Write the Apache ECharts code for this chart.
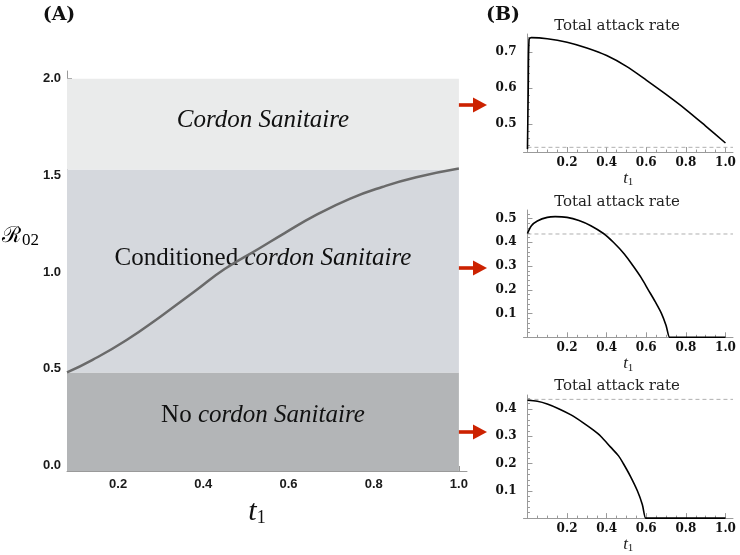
<!DOCTYPE html>
<html><head><meta charset="utf-8">
<script src="https://cdn.jsdelivr.net/npm/echarts@6/dist/echarts.min.js"></script>
<style>html,body{margin:0;padding:0;background:#fff}#c{width:740px;height:555px}</style>
</head><body><div id="c"></div>
<script>
// ---------- data ----------
const mainT1  = [0.08, 0.14, 0.22, 0.30, 0.38, 0.45, 0.53, 0.59, 0.665, 0.745, 0.82, 0.90, 1.00];
const mainR02 = [0.48, 0.545, 0.648, 0.77, 0.90, 1.015, 1.12, 1.20, 1.295, 1.38, 1.44, 1.49, 1.535];
const bandTop = [0.48, 1.53, 2.0];             // upper edge of each region
const bandNames = ['No cordon Sanitaire', 'Conditioned cordon Sanitaire', 'Cordon Sanitaire'];
const mainXTicks = [0.2, 0.4, 0.6, 0.8, 1.0];
const mainYTicks = [0.0, 0.5, 1.0, 1.5, 2.0];

const p1T = [0, 0.004, 0.008, 0.02, 0.1, 0.2, 0.3, 0.4, 0.5, 0.6, 0.7, 0.8, 0.9, 1.0];
const p1V = [0.43, 0.60, 0.735, 0.74, 0.737, 0.727, 0.711, 0.69, 0.66, 0.622, 0.582, 0.54, 0.494, 0.447];
const p2T = [0, 0.02, 0.05, 0.1, 0.14, 0.2, 0.26, 0.32, 0.384, 0.434, 0.49, 0.534, 0.575, 0.61, 0.645, 0.677, 0.70, 0.718, 0.725, 0.8, 0.9, 1.0];
const p2V = [0.437, 0.47, 0.49, 0.505, 0.508, 0.505, 0.492, 0.47, 0.437, 0.40, 0.35, 0.30, 0.25, 0.20, 0.15, 0.10, 0.05, 0.0, 0.0, 0.0, 0.0, 0.0];
const p3T = [0, 0.05, 0.1, 0.16, 0.22, 0.28, 0.33, 0.37, 0.42, 0.46, 0.484, 0.52, 0.555, 0.58, 0.597, 0.604, 0.7, 0.8, 0.9, 1.0];
const p3V = [0.432, 0.428, 0.418, 0.40, 0.378, 0.35, 0.324, 0.30, 0.26, 0.228, 0.20, 0.153, 0.10, 0.05, 0.0, 0.0, 0.0, 0.0, 0.0, 0.0];
const baseline = 0.435;
const panelXTicks = [0.2, 0.4, 0.6, 0.8, 1.0];
const p1YTicks = [0.5, 0.6, 0.7];
const p2YTicks = [0.1, 0.2, 0.3, 0.4, 0.5];
const p3YTicks = [0.1, 0.2, 0.3, 0.4];

// ---------- helpers ----------
const zip = (a, b) => a.map((v, i) => [v, b[i]]);
function steps(min, max, step) { const out = []; for (let k = Math.ceil(min / step - 1e-9); k * step <= max + 1e-9; k++) out.push(+(k * step).toFixed(4)); return out; }

const mainRange = { xMin: 0.08, xMax: 1.019, yMin: -0.03, yMax: 2.04 };
const pX = { min: -0.02, max: 1.038 };
const pY = [{ min: 0.422, max: 0.75 }, { min: 0, max: 0.536 }, { min: 0, max: 0.451 }];

const grids = [
  { left: 67, top: 71, width: 400, height: 400 },
  { left: 523.5, top: 34, width: 209.5, height: 118 },
  { left: 523.5, top: 210, width: 209.5, height: 127.3 },
  { left: 523.5, top: 395, width: 209.5, height: 126.3 }
];

const mainLbl = { fontFamily: 'Liberation Sans', fontWeight: 'bold', fontSize: 13, color: '#1a1a1a' };
const panLbl = { fontFamily: 'DejaVu Serif', fontWeight: 'bold', fontSize: 12, color: '#111' };

function axis(kind, g, min, max, ticks, minor, lbl, margin, extra) {
  const a = {
    type: 'value', gridIndex: g, min: min, max: max,
    position: kind === 'x' ? 'bottom' : 'left',
    axisLine: { show: !minor, onZero: kind === 'y' && g > 0, lineStyle: { color: '#9a9a9a', width: 1 } },
    axisTick: { show: true, inside: true, length: minor ? 2.5 : 5, customValues: ticks, lineStyle: { color: '#9a9a9a', width: 1 } },
    axisLabel: Object.assign({ show: !minor, customValues: ticks, margin: margin, formatter: v => v.toFixed(1) }, lbl),
    splitLine: { show: false }
  };
  return Object.assign(a, extra || {});
}

const xAxes = [], yAxes = [];
// main
xAxes.push(axis('x', 0, mainRange.xMin, mainRange.xMax, mainXTicks, false, mainLbl, 7, {
  name: '{i|t}{s|1}', nameLocation: 'middle', nameGap: 26,
  nameTextStyle: { padding: [0, 20, 0, 0], rich: { i: { fontFamily: 'Liberation Serif', fontStyle: 'italic', fontSize: 30, color: '#111' }, s: { fontFamily: 'Liberation Serif', fontSize: 18, color: '#111', verticalAlign: 'bottom', padding: [12, 0, 0, 0] } } }
}));
xAxes.push(axis('x', 0, mainRange.xMin, mainRange.xMax, steps(0.1, 1.0, 0.05).filter(v => !mainXTicks.some(t => Math.abs(t - v) < 1e-6)), true));
yAxes.push(axis('y', 0, mainRange.yMin, mainRange.yMax, mainYTicks, false, mainLbl, 6));
yAxes.push(axis('y', 0, mainRange.yMin, mainRange.yMax, steps(0, 2.0, 0.1).filter(v => !mainYTicks.some(t => Math.abs(t - v) < 1e-6)), true));
// panels
const pYT = [p1YTicks, p2YTicks, p3YTicks];
for (let i = 0; i < 3; i++) {
  const g = i + 1;
  xAxes.push(axis('x', g, pX.min, pX.max, panelXTicks, false, panLbl, 5, {
    name: '{i|t}{s|1}', nameLocation: 'middle', nameGap: 16,
    nameTextStyle: { rich: { i: { fontFamily: 'Liberation Serif', fontStyle: 'italic', fontSize: 17, color: '#222' }, s: { fontFamily: 'Liberation Serif', fontSize: 11, color: '#222', padding: [8, 0, 0, 0] } } }
  }));
  xAxes.push(axis('x', g, pX.min, pX.max, steps(0.05, 1.0, 0.05).filter(v => !panelXTicks.some(t => Math.abs(t - v) < 1e-6)), true));
  yAxes.push(axis('y', g, pY[i].min, pY[i].max, pYT[i], false, panLbl, 7));
  yAxes.push(axis('y', g, pY[i].min, pY[i].max, steps(pY[i].min, pY[i].max, 0.02).filter(v => v > 0 && !pYT[i].some(t => Math.abs(t - v) < 1e-6)), true));
}

// ---------- series ----------
const bandColors = ['#b3b5b7', '#d5d8dd', '#eaebeb'];
const bandOffsets = [[0, -6], [0, -13], [0, -4]];
const rich = {
  r: { fontFamily: 'Liberation Serif', fontSize: 25, color: '#111' },
  i: { fontFamily: 'Liberation Serif', fontStyle: 'italic', fontSize: 25, color: '#111' }
};
const bandLabels = ['{r|No }{i|cordon Sanitaire}', '{r|Conditioned }{i|cordon Sanitaire}', '{i|Cordon Sanitaire}'];
const areas = bandTop.map((top, k) => [
  { xAxis: mainRange.xMin, yAxis: k === 0 ? mainRange.yMin : bandTop[k - 1], name: bandNames[k],
    itemStyle: { color: bandColors[k] },
    label: { show: true, position: 'inside', formatter: bandLabels[k], rich: rich, offset: bandOffsets[k] } },
  { xAxis: 1.0, yAxis: top }
]);

const series = [
  { type: 'line', xAxisIndex: 0, yAxisIndex: 0, data: zip(mainT1, mainR02), smooth: 0.5, showSymbol: false, silent: true,
    lineStyle: { color: '#6a6a6a', width: 2.5 },
    markArea: { silent: true, data: areas }, z: 3 }
];
const pData = [zip(p1T, p1V), zip(p2T, p2V), zip(p3T, p3V)];
for (let i = 0; i < 3; i++) {
  const xi = 2 + i * 2;
  series.push({ type: 'line', xAxisIndex: xi, yAxisIndex: xi, data: [[0, baseline], [pX.max, baseline]], showSymbol: false, silent: true,
    lineStyle: { color: '#b0b0b0', width: 1, type: [4, 3] } });
  series.push({ type: 'line', xAxisIndex: xi, yAxisIndex: xi, data: pData[i], showSymbol: false, silent: true,
    smooth: 0.3,
    lineStyle: { color: '#000', width: 1.6 } });
}

// ---------- annotations ----------
function arrow(y) {
  return { type: 'group', children: [
    { type: 'rect', shape: { x: 454, y: y - 1.8, width: 20, height: 3.6 }, style: { fill: '#cc2200' } },
    { type: 'polygon', shape: { points: [[473, y - 7.5], [487, y], [473, y + 7.5]] }, style: { fill: '#cc2200' } }
  ] };
}
function txt(x, y, text, font, align) {
  return { type: 'text', x: x, y: y, style: Object.assign({ text: text, align: align || 'center', verticalAlign: 'middle', fill: '#111' }, font) };
}
const graphic = [
  arrow(105), arrow(268), arrow(432),
  txt(59, 15, '(A)', { fontFamily: 'DejaVu Serif', fontWeight: 'bold', fontSize: 19 }),
  txt(503, 15, '(B)', { fontFamily: 'DejaVu Serif', fontWeight: 'bold', fontSize: 19 }),
  txt(617, 26, 'Total attack rate', { fontFamily: 'DejaVu Serif', fontSize: 15, fill: '#222' }),
  txt(617, 202, 'Total attack rate', { fontFamily: 'DejaVu Serif', fontSize: 15, fill: '#222' }),
  txt(617, 386, 'Total attack rate', { fontFamily: 'DejaVu Serif', fontSize: 15, fill: '#222' }),
  { type: 'text', x: 2, y: 236, style: { text: '{r|ℛ}{s|02}', verticalAlign: 'middle', rich: {
      r: { fontFamily: 'DejaVu Serif', fontSize: 22, color: '#111' },
      s: { fontFamily: 'Liberation Serif', fontSize: 17, color: '#111', padding: [10, 0, 0, 1] } } } }
];

const chart = echarts.init(document.getElementById('c'), null, { renderer: 'canvas' });
chart.setOption({
  animation: false,
  backgroundColor: '#fff',
  grid: grids,
  xAxis: xAxes,
  yAxis: yAxes,
  series: series,
  graphic: graphic
});
</script></body></html>
